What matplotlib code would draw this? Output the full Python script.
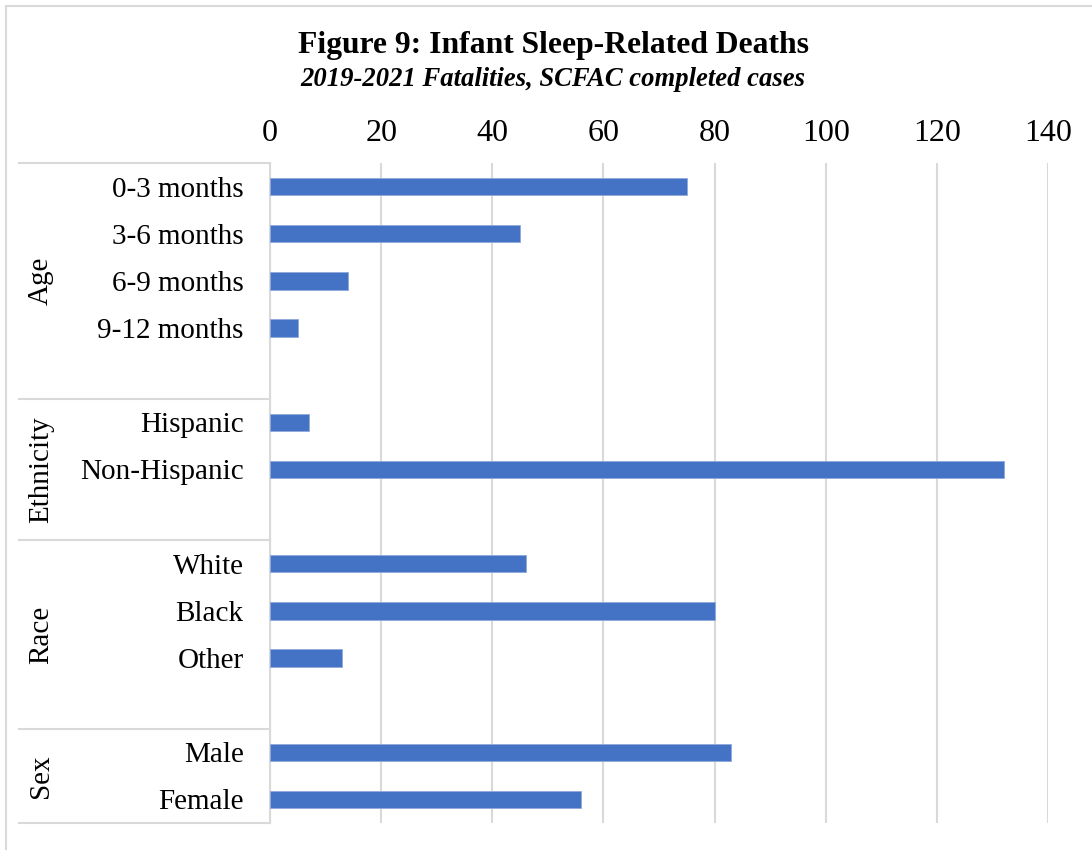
import matplotlib
matplotlib.use("Agg")
import matplotlib.pyplot as plt
import matplotlib.transforms as mtransforms
from matplotlib.patches import Rectangle

# Data: sleep-related infant deaths by demographic group
groups = ["Age", "Ethnicity", "Race", "Sex"]
age_labels = ["0-3 months", "3-6 months", "6-9 months", "9-12 months"]
age_values = [75, 45, 14, 5]
ethnicity_labels = ["Hispanic", "Non-Hispanic"]
ethnicity_values = [7, 132]
race_labels = ["White", "Black", "Other"]
race_values = [46, 80, 13]
sex_labels = ["Male", "Female"]
sex_values = [83, 56]
x_ticks = [0, 20, 40, 60, 80, 100, 120, 140]

group_data = [
    (groups[0], age_labels, age_values),
    (groups[1], ethnicity_labels, ethnicity_values),
    (groups[2], race_labels, race_values),
    (groups[3], sex_labels, sex_values),
]

plt.rcParams["font.family"] = ["Liberation Serif", "DejaVu Serif"]
BAR = "#4472C4"
GRID = "#D9D9D9"
FS = 21

W, H = 1092, 850
fig = plt.figure(figsize=(W / 100, H / 100), dpi=100)
fig.patch.set_facecolor("white")

# outer chart border (right and bottom edges fall outside the canvas)
fig.patches.append(Rectangle((6 / W, -0.05), 1.1, 1.05 - 6 / H,
                             transform=fig.transFigure, fill=False,
                             edgecolor=GRID, linewidth=1.5))

ax = fig.add_axes([270 / W, 1 - 823 / H, 778 / W, 660 / H])

# assign row positions: one blank row between groups
positions, labels, values = [], [], []
bounds = [-0.5]
spans = []
row = 0
for gi, (gname, labs, vals) in enumerate(group_data):
    start = row
    for lab, v in zip(labs, vals):
        positions.append(row)
        labels.append(lab)
        values.append(v)
        row += 1
    if gi < len(group_data) - 1:
        row += 1
    spans.append((gname, start - 0.5, row - 0.5))
    bounds.append(row - 0.5)

ax.barh(positions, values, height=0.37, color=BAR, edgecolor="#8EA9DB",
        linewidth=0.6, zorder=3)

ax.set_xlim(0, 140)
ax.set_ylim(row - 0.5, -0.5)
ax.set_xticks(x_ticks)
ax.xaxis.tick_top()
ax.tick_params(axis="x", length=0, labelsize=23, pad=11)
ax.set_yticks(positions)
ax.set_yticklabels(labels)
ax.tick_params(axis="y", length=0, labelsize=FS, pad=19)
ax.grid(axis="x", color=GRID, linewidth=1.5, zorder=0)
for s in ["top", "right", "bottom"]:
    ax.spines[s].set_visible(False)
ax.spines["left"].set_color(GRID)
ax.spines["left"].set_linewidth(1.5)

# group separators and rotated group names in the category area
trans = mtransforms.blended_transform_factory(ax.transAxes, ax.transData)
x_left = (19 - 270) / 778
for b in bounds:
    ax.plot([x_left, 0], [b, b], transform=trans, color=GRID, linewidth=1.5,
            clip_on=False, zorder=1)
for gname, y0, y1 in spans:
    ax.text((41 - 270) / 778, (y0 + y1) / 2, gname, transform=trans,
            rotation=90, ha="center", va="center", fontsize=FS)

fig.text(553 / W, 1 - 46 / H, "Figure 9: Infant Sleep-Related Deaths",
         ha="center", va="center", fontsize=22.8, fontweight="bold")
fig.text(553 / W, 1 - 79 / H, "2019-2021 Fatalities, SCFAC completed cases",
         ha="center", va="center", fontsize=19.2, fontweight="bold", style="italic")

fig.savefig("out.png", dpi=100)
